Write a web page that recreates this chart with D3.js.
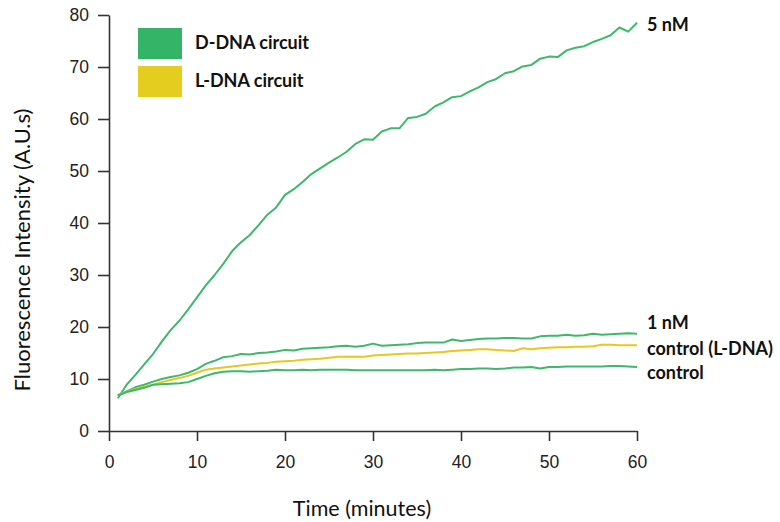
<!DOCTYPE html>
<html>
<head>
<meta charset="utf-8">
<script src="https://cdn.jsdelivr.net/npm/d3@7"></script>
<style>
    body { margin: 0; background: #fff; }
    svg { display: block; }
</style>
</head>
<body>
<div id="graph"></div>
<script>
// Data (minutes 1..60)
const minutes = d3.range(1, 61);
const d5nM = [6.3, 8.9, 10.8, 12.8, 14.8, 17.2, 19.4, 21.2, 23.4, 25.7,
    28.0, 30.0, 32.2, 34.6, 36.3, 37.7, 39.6, 41.6, 43.0, 45.4,
    46.5, 47.9, 49.4, 50.5, 51.6, 52.6, 53.7, 55.2, 56.1, 56.0,
    57.6, 58.2, 58.2, 60.2, 60.4, 61.0, 62.4, 63.2, 64.2, 64.4,
    65.3, 66.1, 67.1, 67.7, 68.8, 69.2, 70.1, 70.4, 71.6, 72.0,
    71.9, 73.2, 73.7, 74.0, 74.8, 75.4, 76.1, 77.6, 76.8, 78.5];
const d1nM = [6.8, 7.6, 8.4, 8.9, 9.5, 10.0, 10.4, 10.7, 11.2, 11.9,
    12.9, 13.5, 14.2, 14.4, 14.8, 14.7, 15.0, 15.1, 15.3, 15.6,
    15.5, 15.8, 15.9, 16.0, 16.1, 16.3, 16.4, 16.2, 16.4, 16.8,
    16.4, 16.5, 16.6, 16.7, 16.9, 17.0, 17.0, 17.0, 17.6, 17.3,
    17.5, 17.7, 17.8, 17.8, 17.9, 17.9, 17.8, 17.8, 18.2, 18.3,
    18.3, 18.5, 18.3, 18.4, 18.7, 18.5, 18.6, 18.7, 18.8, 18.7];
const lControl = [7.0, 7.5, 8.1, 8.5, 8.9, 9.4, 9.8, 10.2, 10.6, 11.2,
    11.8, 12.0, 12.2, 12.4, 12.6, 12.8, 13.0, 13.1, 13.3, 13.4,
    13.5, 13.7, 13.8, 13.9, 14.1, 14.3, 14.3, 14.3, 14.3, 14.5,
    14.6, 14.7, 14.8, 14.9, 14.9, 15.0, 15.1, 15.2, 15.4, 15.5,
    15.6, 15.7, 15.7, 15.6, 15.5, 15.4, 15.9, 15.7, 15.9, 16.0,
    16.1, 16.1, 16.2, 16.2, 16.3, 16.6, 16.6, 16.5, 16.5, 16.5];
const dControl = [6.8, 7.5, 7.9, 8.3, 8.9, 9.0, 9.1, 9.2, 9.4, 10.0,
    10.6, 11.1, 11.4, 11.5, 11.5, 11.4, 11.5, 11.6, 11.8, 11.7,
    11.7, 11.8, 11.7, 11.8, 11.8, 11.8, 11.8, 11.7, 11.7, 11.7,
    11.7, 11.7, 11.7, 11.7, 11.7, 11.7, 11.8, 11.7, 11.8, 11.9,
    11.9, 12.0, 12.0, 11.9, 12.0, 12.2, 12.2, 12.3, 12.0, 12.3,
    12.3, 12.4, 12.4, 12.4, 12.4, 12.4, 12.5, 12.5, 12.4, 12.3];

const xTicks = [0, 10, 20, 30, 40, 50, 60];
const yTicks = [0, 10, 20, 30, 40, 50, 60, 70, 80];

const series = [
    { name: "5 nM", values: d5nM, type: "D" },
    { name: "1 nM", values: d1nM, type: "D" },
    { name: "control (L-DNA)", values: lControl, type: "L" },
    { name: "control", values: dControl, type: "D" }
];
const legendItems = [
    { label: "D-DNA circuit", type: "D" },
    { label: "L-DNA circuit", type: "L" }
];

// Layout
const w = 780;
const h = 522;
const plot = { left: 109, right: 637, top: 15, bottom: 431 };
const lineColor = { D: "#3cb96a", L: "#e6c81e" };
const swatchColor = { D: "#33b466", L: "#e5cd1f" };
const labelFont = "Lato, 'Open Sans', sans-serif";

// Scales
const xScale = d3.scaleLinear().domain([0, 60]).range([plot.left, plot.right]);
const yScale = d3.scaleLinear().domain([0, 80]).range([plot.bottom, plot.top]);

const svg = d3.select("#graph")
    .append("svg")
    .attr("width", w)
    .attr("height", h);

// Axes
const xAxis = d3.axisBottom(xScale).tickValues(xTicks).tickSize(10).tickSizeOuter(0).tickPadding(15);
const yAxis = d3.axisLeft(yScale).tickValues(yTicks).tickSize(11).tickSizeOuter(0).tickPadding(9);

const gx = svg.append("g")
    .attr("transform", "translate(0," + plot.bottom + ")")
    .call(xAxis);
const gy = svg.append("g")
    .attr("transform", "translate(" + plot.left + ",0)")
    .call(yAxis);

[gx, gy].forEach(g => {
    g.selectAll("path, line").attr("stroke", "#333").attr("stroke-width", 1.6);
    g.selectAll("text")
        .attr("fill", "#222")
        .style("font-family", "'Liberation Sans', Arial, sans-serif")
        .style("font-size", "17.5px");
});

// Lines
const line = d3.line()
    .x((d, i) => xScale(minutes[i]))
    .y(d => yScale(d));

svg.selectAll(".series")
    .data(series)
    .enter()
    .append("path")
    .attr("class", "series")
    .attr("d", d => line(d.values))
    .attr("fill", "none")
    .attr("stroke", d => lineColor[d.type])
    .attr("stroke-width", 2)
    .attr("stroke-linejoin", "round");

// End labels
const endLabelY = { "5 nM": 31, "1 nM": 329, "control (L-DNA)": 355, "control": 379 };
svg.selectAll(".endlabel")
    .data(series)
    .enter()
    .append("text")
    .attr("class", "endlabel")
    .attr("x", plot.right + 10)
    .attr("y", d => endLabelY[d.name])
    .text(d => d.name)
    .style("font-family", labelFont)
    .style("font-weight", "bold")
    .style("font-size", "18px")
    .attr("fill", "#111");

// Legend
const legend = svg.append("g").attr("transform", "translate(138,28)");
legend.selectAll("rect")
    .data(legendItems)
    .enter()
    .append("rect")
    .attr("x", 0)
    .attr("y", (d, i) => i * 38)
    .attr("width", 44)
    .attr("height", 31)
    .attr("fill", d => swatchColor[d.type]);
legend.selectAll("text")
    .data(legendItems)
    .enter()
    .append("text")
    .attr("x", 57)
    .attr("y", (d, i) => 21 + i * 38)
    .text(d => d.label)
    .style("font-family", labelFont)
    .style("font-weight", "bold")
    .style("font-size", "18px")
    .attr("fill", "#111");

// Axis titles
svg.append("text")
    .attr("x", 362)
    .attr("y", 516)
    .attr("text-anchor", "middle")
    .text("Time (minutes)")
    .style("font-family", labelFont)
    .style("font-size", "21.5px")
    .attr("fill", "#111");
svg.append("text")
    .attr("transform", "translate(30,250) rotate(-90)")
    .attr("text-anchor", "middle")
    .text("Fluorescence Intensity (A.U.s)")
    .style("font-family", labelFont)
    .style("font-size", "22px")
    .attr("fill", "#111");
</script>
</body>
</html>
